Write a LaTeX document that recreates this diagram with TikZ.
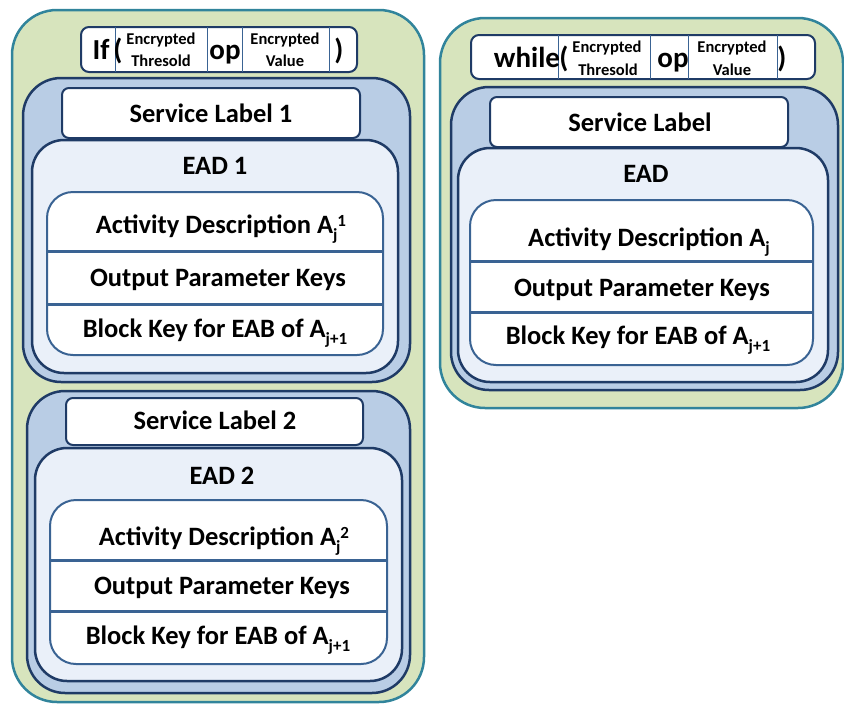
\documentclass[tikz,border=0pt]{standalone}
\usepackage{fontspec}
\setmainfont{Carlito}
\definecolor{greenfill}{HTML}{D7E4BD}
\definecolor{tealline}{HTML}{31849B}
\definecolor{bluefill}{HTML}{B9CDE5}
\definecolor{navyline}{HTML}{1F3B66}
\definecolor{eadfill}{HTML}{EAF0F9}
\definecolor{actline}{HTML}{3A6393}
\newcommand{\sbs}[1]{\raisebox{-7pt}{\fontsize{17}{17}\selectfont #1}}
\newcommand{\sps}[1]{\raisebox{7pt}{\fontsize{17}{17}\selectfont #1}}
\begin{document}
\begin{tikzpicture}[x=1pt,y=-1pt,
  greenbox/.style={fill=greenfill,draw=tealline,line width=2.5pt,rounded corners=45pt},
  bluebox/.style={fill=bluefill,draw=navyline,line width=2.5pt,rounded corners=38pt},
  eadbox/.style={fill=eadfill,draw=navyline,line width=2.5pt,rounded corners=32pt},
  actbox/.style={fill=white,draw=actline,line width=2pt,rounded corners=26pt},
  slbox/.style={fill=white,draw=navyline,line width=2pt,rounded corners=7pt},
  barbox/.style={fill=white,draw=navyline,line width=2pt,rounded corners=8pt},
  bardiv/.style={draw=actline,line width=1pt},
  actdiv/.style={draw=actline,line width=3pt},
  txt/.style={font=\fontsize{26.5}{28}\selectfont\bfseries,anchor=base,inner sep=0pt},
  big/.style={font=\fontsize{29}{30}\selectfont\bfseries,anchor=base,inner sep=0pt},
  small/.style={font=\fontsize{16.5}{17}\selectfont\bfseries,anchor=base,inner sep=0pt}]
\useasboundingbox (0,0) rectangle (844,705);

% ---------- left: If ----------
\path[greenbox] (12,10) rectangle (424,702);
\path[barbox] (81,27) rectangle (357,72);
\foreach \x in {115,207,242,329} \draw[bardiv] (\x,27) -- (\x,72);
\node[big] (if) at (101,59) {If};
\node[big] (ifl) at (118,59) {(};
\node[small] (ifet) at (161,44) {Encrypted};
\node[small] (ifth) at (161,66) {Thresold};
\node[big] (ifop) at (225,59) {op};
\node[small] (ifev) at (285,44) {Encrypted};
\node[small] (ifva) at (285,66) {Value};
\node[big] (ifr) at (339,59) {)};

\path[bluebox] (23,78) rectangle (410,382);
\path[slbox] (62,88) rectangle (360,138);
\node[txt] (sl1) at (211,122) {Service Label 1};
\path[eadbox] (32,140) rectangle (398,373);
\node[txt] (ead1) at (215,174) {EAD 1};
\path[actbox] (47,192) rectangle (383,355);
\draw[actdiv] (47,251) -- (383,251);
\draw[actdiv] (47,304) -- (383,304);
\node[txt] (ad1) at (221,233) {Activity Description A\sbs{j}\sps{1}};
\node[txt] (op1) at (218,286) {Output Parameter Keys};
\node[txt] (bk1) at (215,337) {Block Key for EAB of A\sbs{j+1}};

\path[bluebox] (27,391) rectangle (410,693);
\path[slbox] (66,398) rectangle (363,445);
\node[txt] (sl2) at (215,429) {Service Label 2};
\path[eadbox] (35,448) rectangle (402,681);
\node[txt] (ead2) at (222,484) {EAD 2};
\path[actbox] (50,500) rectangle (387,664);
\draw[actdiv] (50,560) -- (387,560);
\draw[actdiv] (50,611) -- (387,611);
\node[txt] (ad2) at (224,545) {Activity Description A\sbs{j}\sps{2}};
\node[txt] (op2) at (222,594) {Output Parameter Keys};
\node[txt] (bk2) at (218,644) {Block Key for EAB of A\sbs{j+1}};

% ---------- right: while ----------
\path[greenbox] (440,18) rectangle (843,408);
\path[barbox] (471,35) rectangle (815,79);
\foreach \x in {558,650,688,777} \draw[bardiv] (\x,35) -- (\x,79);
\node[big] (wh) at (527,67) {while};
\node[big] (whl) at (564,67) {(};
\node[small] (whet) at (607,52) {Encrypted};
\node[small] (whth) at (608,75) {Thresold};
\node[big] (whop) at (673,67) {op};
\node[small] (whev) at (732,52) {Encrypted};
\node[small] (whva) at (732,75) {Value};
\node[big] (whr) at (782,67) {)};

\path[bluebox] (451,87) rectangle (838,390);
\path[slbox] (490,97) rectangle (788,147);
\node[txt] (slw) at (640,131) {Service Label};
\path[eadbox] (458,148) rectangle (828,382);
\node[txt] (eadw) at (646,182) {EAD};
\path[actbox] (470,200) rectangle (813,365);
\draw[actdiv] (470,261) -- (813,261);
\draw[actdiv] (470,312) -- (813,312);
\node[txt] (adw) at (649,246) {Activity Description A\sbs{j}};
\node[txt] (opw) at (642,296) {Output Parameter Keys};
\node[txt] (bkw) at (638,344) {Block Key for EAB of A\sbs{j+1}};
\end{tikzpicture}
\end{document}
